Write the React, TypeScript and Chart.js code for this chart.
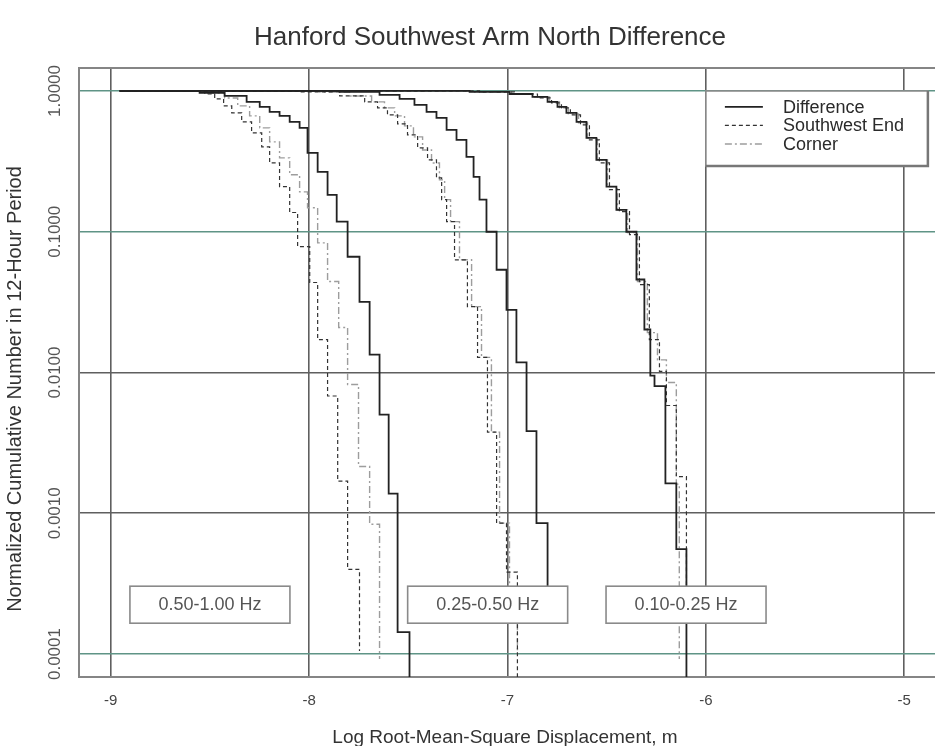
import React, { useEffect, useRef } from 'react';
import { Chart, registerables } from 'chart.js';

Chart.register(...registerables);

const FONT = '"Liberation Sans", Arial, Helvetica, sans-serif';

const TITLE = 'Hanford Southwest Arm North Difference';
const X_TITLE = 'Log Root-Mean-Square Displacement, m';
const Y_TITLE = 'Normalized Cumulative Number in 12-Hour Period';

const X_TICKS = [-9, -8, -7, -6, -5];
const Y_TICKS = [0.0001, 0.001, 0.01, 0.1, 1];
const X_MIN = -9.16;
const X_MAX = -4.84;
const Y_MIN = 6.87e-5;
const Y_MAX = 1.456;

const SERIES_NAMES = ['Difference', 'Southwest End', 'Corner'];
const BAND_LABELS = ['0.50-1.00 Hz', '0.25-0.50 Hz', '0.10-0.25 Hz'];
const BAND_LABEL_X = [-8.5, -7.1, -6.1];
const BAND_LABEL_Y = 0.000226;

// a count that has dropped to zero; kept positive so the log axis can draw the fall
const ZERO = 1e-6;

// 0.50-1.00 Hz
const b1DiffX = [-8.955, -8.552, -8.426, -8.315, -8.249, -8.199, -8.149, -8.098, -8.048, -8.008, -7.957, -7.907, -7.861, -7.806, -7.746, -7.695, -7.645, -7.599, -7.554, -7.494];
const b1DiffY = [1, 0.968, 0.922, 0.836, 0.77, 0.71, 0.665, 0.603, 0.547, 0.363, 0.266, 0.183, 0.118, 0.0664, 0.0318, 0.0134, 0.00502, 0.00138, 0.000143, ZERO];
const b1SwX = [-8.955, -8.526, -8.476, -8.431, -8.39, -8.34, -8.29, -8.239, -8.199, -8.149, -8.098, -8.058, -7.997, -7.957, -7.907, -7.856, -7.806, -7.746];
const b1SwY = [1, 0.952, 0.878, 0.783, 0.698, 0.603, 0.504, 0.401, 0.308, 0.209, 0.137, 0.0783, 0.0436, 0.0171, 0.00681, 0.00169, 0.0004, 0.000105];
const b1CornerX = [-8.955, -8.511, -8.426, -8.36, -8.3, -8.249, -8.199, -8.149, -8.098, -8.048, -8.008, -7.957, -7.907, -7.851, -7.806, -7.751, -7.695, -7.645];
const b1CornerY = [1, 0.968, 0.892, 0.783, 0.665, 0.547, 0.435, 0.335, 0.254, 0.192, 0.148, 0.0834, 0.0443, 0.0209, 0.00822, 0.00215, 0.000836, 0.0000922];

// 0.25-0.50 Hz
const b2DiffX = [-8.955, -7.846, -7.645, -7.544, -7.469, -7.408, -7.358, -7.307, -7.257, -7.207, -7.171, -7.141, -7.106, -7.055, -7.005, -6.955, -6.904, -6.854, -6.798];
const b2DiffY = [1, 0.984, 0.937, 0.878, 0.796, 0.71, 0.644, 0.529, 0.449, 0.34, 0.245, 0.169, 0.1, 0.0537, 0.0279, 0.0118, 0.00383, 0.000851, 0.000177];
const b2SwX = [-8.955, -8.048, -7.846, -7.72, -7.655, -7.605, -7.554, -7.504, -7.453, -7.403, -7.358, -7.332, -7.307, -7.267, -7.202, -7.151, -7.101, -7.055, -7.005, -6.95];
const b2SwY = [1, 0.984, 0.922, 0.836, 0.758, 0.676, 0.583, 0.487, 0.394, 0.324, 0.241, 0.169, 0.118, 0.0632, 0.0294, 0.0128, 0.00377, 0.000851, 0.000382, ZERO];
const b2CornerX = [-8.955, -7.947, -7.796, -7.685, -7.62, -7.569, -7.519, -7.474, -7.428, -7.383, -7.343, -7.317, -7.287, -7.242, -7.181, -7.131, -7.081, -7.04, -6.99, -6.95];
const b2CornerY = [1, 0.984, 0.922, 0.836, 0.758, 0.665, 0.565, 0.472, 0.381, 0.308, 0.234, 0.169, 0.118, 0.0632, 0.0294, 0.0128, 0.00377, 0.000851, 0.000245, 0.0001];

// 0.10-0.25 Hz
const b3DiffX = [-8.955, -7.191, -6.99, -6.874, -6.798, -6.748, -6.703, -6.652, -6.602, -6.552, -6.501, -6.451, -6.401, -6.35, -6.31, -6.28, -6.259, -6.204, -6.149, -6.098];
const b3DiffY = [1, 0.984, 0.952, 0.907, 0.836, 0.77, 0.698, 0.603, 0.464, 0.324, 0.209, 0.143, 0.1, 0.0458, 0.0202, 0.00951, 0.00801, 0.00163, 0.000556, ZERO];
const b3SwX = [-8.955, -7.141, -6.965, -6.849, -6.778, -6.728, -6.683, -6.632, -6.587, -6.537, -6.486, -6.436, -6.385, -6.335, -6.285, -6.234, -6.199, -6.149, -6.098];
const b3SwY = [1, 0.984, 0.952, 0.892, 0.822, 0.758, 0.676, 0.574, 0.449, 0.308, 0.199, 0.139, 0.0953, 0.0421, 0.0171, 0.0102, 0.00583, 0.00182, 0.000245];
const b3CornerX = [-8.955, -7.166, -6.98, -6.864, -6.788, -6.738, -6.693, -6.642, -6.597, -6.547, -6.496, -6.446, -6.395, -6.345, -6.295, -6.244, -6.199, -6.149, -6.134];
const b3CornerY = [1, 0.984, 0.952, 0.907, 0.836, 0.758, 0.687, 0.593, 0.464, 0.324, 0.209, 0.143, 0.0986, 0.0443, 0.0192, 0.0123, 0.00849, 0.00161, 0.0000922];

const LINE_STYLES: Record<string, { borderColor: string; borderWidth: number; borderDash: number[] }> = {
  Difference: { borderColor: '#222222', borderWidth: 1.8, borderDash: [] },
  'Southwest End': { borderColor: '#333333', borderWidth: 1.2, borderDash: [4, 3] },
  Corner: { borderColor: '#9d9d9d', borderWidth: 1.4, borderDash: [7, 3, 2, 3] },
};

const GRID = '#5f5f5f';
const GRID_TINT = '#5f9486';
const TINTED_ROWS = [1, 0.1, 0.0001];
const FRAME = '#858585';

function curve(name: string, band: string, xs: number[], ys: number[]) {
  return {
    label: `${name} ${band}`,
    data: xs.map((x, i) => ({ x, y: ys[i] })),
    stepped: true as const,
    pointRadius: 0,
    fill: false,
    ...LINE_STYLES[name],
  };
}

function drawBox(ctx: CanvasRenderingContext2D, x: number, y: number, w: number, h: number) {
  ctx.fillStyle = '#ffffff';
  ctx.fillRect(x, y, w, h);
  ctx.strokeStyle = '#8a8a8a';
  ctx.lineWidth = 1.6;
  ctx.setLineDash([]);
  ctx.strokeRect(x, y, w, h);
}

const decorations = {
  id: 'decorations',
  beforeDatasetsDraw(chart: Chart) {
    const { ctx, chartArea: a } = chart;
    ctx.save();
    ctx.strokeStyle = FRAME;
    ctx.lineWidth = 2;
    ctx.strokeRect(a.left, a.top, a.right - a.left, a.bottom - a.top);
    ctx.restore();
  },
  afterDatasetsDraw(chart: Chart) {
    const { ctx } = chart;
    const xs = chart.scales.x;
    const ys = chart.scales.y;
    ctx.save();

    // frequency band labels
    const cy = ys.getPixelForValue(BAND_LABEL_Y);
    BAND_LABELS.forEach((text, i) => {
      const cx = xs.getPixelForValue(BAND_LABEL_X[i]);
      drawBox(ctx, cx - 80, cy - 18, 160, 37);
      ctx.fillStyle = '#555555';
      ctx.font = `18px ${FONT}`;
      ctx.textAlign = 'center';
      ctx.textBaseline = 'middle';
      ctx.fillText(text, cx, cy + 1);
    });

    // legend, anchored on the -6 / 1.0 grid corner
    const lx = xs.getPixelForValue(-6);
    const ly = ys.getPixelForValue(1);
    drawBox(ctx, lx, ly, 222, 75);
    ctx.strokeStyle = '#777777';
    ctx.lineWidth = 2.5;
    ctx.beginPath();
    ctx.moveTo(lx + 222, ly);
    ctx.lineTo(lx + 222, ly + 75);
    ctx.lineTo(lx, ly + 75);
    ctx.stroke();
    SERIES_NAMES.forEach((name, i) => {
      const st = LINE_STYLES[name];
      const yy = ly + 16 + i * 18.5;
      ctx.strokeStyle = st.borderColor;
      ctx.lineWidth = st.borderWidth;
      ctx.setLineDash(st.borderDash);
      ctx.beginPath();
      ctx.moveTo(lx + 19, yy);
      ctx.lineTo(lx + 57, yy);
      ctx.stroke();
      ctx.setLineDash([]);
      ctx.fillStyle = '#2a2a2a';
      ctx.font = `18px ${FONT}`;
      ctx.textAlign = 'left';
      ctx.textBaseline = 'middle';
      ctx.fillText(name, lx + 77, yy + 1);
    });
    ctx.restore();
  },
  afterDraw(chart: Chart) {
    const { ctx } = chart;
    ctx.save();
    ctx.fillStyle = '#333333';
    ctx.textAlign = 'center';
    ctx.textBaseline = 'middle';
    ctx.font = `26px ${FONT}`;
    ctx.fillText(TITLE, 490, 38);
    ctx.font = `19px ${FONT}`;
    ctx.fillText(X_TITLE, 505, 738);
    ctx.font = `20px ${FONT}`;
    ctx.translate(15, 389);
    ctx.rotate(-Math.PI / 2);
    ctx.fillText(Y_TITLE, 0, 0);
    ctx.restore();
  },
};

export default function App() {
  const ref = useRef<HTMLCanvasElement>(null);

  useEffect(() => {
    const canvas = ref.current;
    if (!canvas) return;
    const datasets = [
      curve('Difference', BAND_LABELS[0], b1DiffX, b1DiffY),
      curve('Difference', BAND_LABELS[1], b2DiffX, b2DiffY),
      curve('Difference', BAND_LABELS[2], b3DiffX, b3DiffY),
      curve('Southwest End', BAND_LABELS[0], b1SwX, b1SwY),
      curve('Southwest End', BAND_LABELS[1], b2SwX, b2SwY),
      curve('Southwest End', BAND_LABELS[2], b3SwX, b3SwY),
      curve('Corner', BAND_LABELS[0], b1CornerX, b1CornerY),
      curve('Corner', BAND_LABELS[1], b2CornerX, b2CornerY),
      curve('Corner', BAND_LABELS[2], b3CornerX, b3CornerY),
    ];
    const chart = new Chart(canvas, {
      type: 'line',
      data: { datasets },
      plugins: [decorations],
      options: {
        responsive: false,
        animation: false,
        devicePixelRatio: 1,
        layout: { padding: { top: 68, right: 24, left: 0, bottom: 0 } },
        plugins: { legend: { display: false }, tooltip: { enabled: false } },
        scales: {
          x: {
            type: 'linear',
            min: X_MIN,
            max: X_MAX,
            afterBuildTicks: (s: any) => {
              s.ticks = X_TICKS.map((value) => ({ value }));
            },
            afterFit: (s: any) => {
              s.height = 69;
            },
            border: { display: false },
            grid: { color: GRID, lineWidth: 1.6, drawTicks: false },
            ticks: {
              color: '#444444',
              font: { family: FONT, size: 15 },
              padding: 15,
              callback: (v: any) => String(v),
            },
          },
          y: {
            type: 'logarithmic',
            min: Y_MIN,
            max: Y_MAX,
            afterBuildTicks: (s: any) => {
              s.ticks = Y_TICKS.map((value) => ({ value, major: true }));
            },
            afterFit: (s: any) => {
              s.width = 79;
            },
            border: { display: false },
            grid: {
              color: (c: any) => (c.tick && TINTED_ROWS.includes(c.tick.value) ? GRID_TINT : GRID),
              lineWidth: 1.6,
              drawTicks: false,
            },
            ticks: {
              minRotation: 90,
              maxRotation: 90,
              crossAlign: 'center',
              padding: -2,
              color: '#555555',
              font: { family: FONT, size: 17 },
              callback: (v: any) => Number(v).toFixed(4),
            },
          },
        },
      },
    });
    return () => chart.destroy();
  }, []);

  return (
    <div style={{ position: 'fixed', left: 0, top: 0, width: 935, height: 746, overflow: 'hidden', background: '#ffffff' }}>
      <canvas ref={ref} width={960} height={746} style={{ display: 'block' }} />
    </div>
  );
}
